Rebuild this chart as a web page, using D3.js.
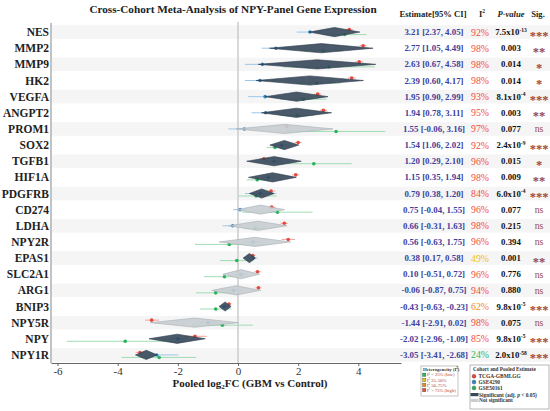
<!DOCTYPE html>
<html lang="en">
<head>
  <meta charset="utf-8">
  <title>NPY panel forest plot</title>
  <script src="https://cdn.jsdelivr.net/npm/d3@7"></script>
  <style>
    body { margin: 0; background: #fff; }
    text { font-family: "Liberation Serif", "DejaVu Serif", serif; }
  </style>
</head>
<body>
  <script>
    var genes = ["NES", "MMP2", "MMP9", "HK2", "VEGFA", "ANGPT2", "PROM1", "SOX2", "TGFB1", "HIF1A", "PDGFRB",
      "CD274", "LDHA", "NPY2R", "EPAS1", "SLC2A1", "ARG1", "BNIP3", "NPY5R", "NPY", "NPY1R"];

    // pooled estimate and 95% CI
    var pooledEst = [3.21, 2.77, 2.63, 2.39, 1.95, 1.94, 1.55, 1.54, 1.20, 1.15, 0.79, 0.75, 0.66, 0.56, 0.38, 0.10, -0.06, -0.43, -1.44, -2.02, -3.05];
    var pooledLo = [2.37, 1.05, 0.67, 0.60, 0.90, 0.78, -0.06, 1.06, 0.29, 0.35, 0.38, -0.04, -0.31, -0.63, 0.17, -0.51, -0.87, -0.63, -2.91, -2.96, -3.41];
    var pooledHi = [4.05, 4.49, 4.58, 4.17, 2.99, 3.11, 3.16, 2.02, 2.10, 1.94, 1.20, 1.55, 1.63, 1.75, 0.58, 0.72, 0.75, -0.23, 0.02, -1.09, -2.68];
    var i2 = [92, 98, 98, 98, 93, 95, 97, 92, 96, 98, 84, 96, 98, 96, 49, 96, 94, 62, 98, 85, 24];
    var pLabels = ["7.5x10^-13", "0.003", "0.014", "0.014", "8.1x10^-4", "0.003", "0.077", "2.4x10^-9", "0.015", "0.009", "6.0x10^-4",
      "0.077", "0.215", "0.394", "0.001", "0.776", "0.880", "9.8x10^-5", "0.075", "9.8x10^-5", "2.0x10^-58"];
    var sigLabels = ["***", "**", "*", "*", "***", "**", "ns", "***", "*", "**", "***",
      "ns", "ns", "ns", "**", "ns", "ns", "***", "ns", "***", "***"];

    // per-cohort estimates
    var tcgaEst = [3.70, 4.16, 4.03, 3.78, 2.65, 2.84, 1.62, 2.00, 0.86, 1.92, 1.10, 1.12, 1.54, 1.67, 0.49, 0.65, 0.68, -0.30, -2.87, -1.43, -3.26];
    var tcgaLo = [3.58, 4.04, 3.90, 3.66, 2.53, 2.72, 1.50, 1.88, 0.74, 1.80, 0.98, 1.00, 1.42, 1.45, 0.40, 0.55, 0.58, -0.38, -3.09, -1.80, -3.40];
    var tcgaHi = [3.82, 4.28, 4.16, 3.90, 2.77, 2.96, 1.74, 2.12, 0.98, 2.04, 1.22, 1.24, 1.66, 1.90, 0.58, 0.75, 0.78, -0.22, -2.62, -1.04, -3.12];
    var gse4290Est = [2.39, 1.26, 0.81, 0.73, 0.90, 0.92, 0.21, 1.45, 1.20, 1.00, 0.75, 0.07, -0.18, 0.50, 0.50, 0.10, -0.15, -0.45, -1.00, -2.00, -2.70];
    var gse4290Lo = [1.95, 0.79, 0.23, 0.23, 0.34, 0.45, -0.32, 1.20, 0.90, 0.75, 0.23, -0.16, -0.51, 0.20, 0.35, -0.10, -0.40, -0.60, -1.30, -2.30, -3.10];
    var gse4290Hi = [2.83, 1.73, 1.39, 1.23, 1.46, 1.39, 0.74, 1.70, 1.50, 1.25, 1.27, 0.30, 0.15, 0.80, 0.65, 0.30, 0.10, -0.30, -0.70, -1.70, -1.98];
    var gse50161Est = [3.55, 2.84, 3.03, 2.61, 2.17, 1.97, 3.26, 1.23, 2.52, 0.64, 0.60, 1.31, 0.57, -0.29, -0.04, -0.45, -0.74, -0.74, -0.52, -3.75, -2.62];
    var gse50161Lo = [2.83, 2.20, 1.50, 1.80, 1.40, 1.40, 1.60, 0.95, 1.26, 0.29, 0.00, 0.14, 0.20, -1.43, -0.60, -1.13, -1.39, -1.26, -1.53, -5.69, -3.87];
    var gse50161Hi = [4.27, 3.50, 4.55, 3.40, 2.95, 2.50, 4.90, 1.50, 3.78, 0.99, 1.28, 2.48, 0.90, 0.85, 0.52, 0.23, -0.09, -0.22, 0.49, -1.81, -1.39];

    var xTicks = [-6, -4, -2, 0, 2, 4];

    var cohorts = [
      { name: "TCGA-GBMLGG", color: "#e8473b", line: "#f4a49b", dy: -2.5, est: tcgaEst, lo: tcgaLo, hi: tcgaHi },
      { name: "GSE4290", color: "#2f86c8", line: "#9cc7e8", dy: 0, est: gse4290Est, lo: gse4290Lo, hi: gse4290Hi },
      { name: "GSE50161", color: "#27b35a", line: "#9fdcb3", dy: 2.5, est: gse50161Est, lo: gse50161Lo, hi: gse50161Hi }
    ];

    var w = 550, h = 411;
    var plotLeft = 51, plotRight = 401, plotTop = 24, plotBottom = 363;

    var x = d3.scaleLinear().domain([-6.217, 5.419]).range([plotLeft, plotRight]);
    var y = d3.scaleBand().domain(genes).range([plotTop, plotBottom]);

    function i2Color(v) {
      if (v < 25) return "#2eb85c";
      if (v < 50) return "#f0c20f";
      if (v < 75) return "#f28a1a";
      return "#f24d40";
    }

    var svg = d3.select("body").append("svg")
      .attr("width", w)
      .attr("height", h);

    // row stripes
    svg.selectAll(".stripe")
      .data(genes.filter(function (d, i) { return i % 2 === 0; }))
      .enter()
      .append("rect")
      .attr("x", plotLeft + 1)
      .attr("width", w - plotLeft)
      .attr("y", function (d) { return y(d) + y.bandwidth() / 2 - 6.8; })
      .attr("height", 13.6)
      .attr("fill", "#f5f5f5");

    // title + headers
    svg.append("text")
      .attr("x", 233).attr("y", 13)
      .attr("text-anchor", "middle")
      .attr("font-size", 11.2).attr("font-weight", "bold").attr("fill", "#222")
      .text("Cross-Cohort Meta-Analysis of NPY-Panel Gene Expression");

    var header = svg.append("g").attr("font-size", 8.6).attr("font-weight", "bold").attr("fill", "#222")
      .attr("text-anchor", "middle");
    header.append("text").attr("x", 433).attr("y", 16.5).text("Estimate[95% CI]");
    var hI2 = header.append("text").attr("x", 482).attr("y", 16.5).text("I");
    hI2.append("tspan").attr("font-size", 5.5).attr("dy", -3.5).text("2");
    header.append("text").attr("x", 511).attr("y", 16.5).attr("font-style", "italic").text("P-value");
    header.append("text").attr("x", 538).attr("y", 16.5).text("Sig.");

    // zero line
    svg.append("line")
      .attr("x1", x(0)).attr("x2", x(0))
      .attr("y1", plotTop - 2).attr("y2", plotBottom)
      .attr("stroke", "#cfcfcf").attr("stroke-width", 1.6);

    // left axis line
    svg.append("line")
      .attr("x1", plotLeft).attr("x2", plotLeft)
      .attr("y1", plotTop - 1).attr("y2", plotBottom)
      .attr("stroke", "#9a9a9a").attr("stroke-width", 1.2);

    // bottom axis
    var xAxis = svg.append("g")
      .attr("transform", "translate(0," + plotBottom + ")")
      .call(d3.axisBottom(x).tickValues(xTicks).tickSize(3).tickSizeOuter(0)
        .tickFormat(function (d) { return String(d); }));
    xAxis.select(".domain").attr("stroke", "#666").attr("stroke-width", 1.2);
    xAxis.selectAll(".tick line").attr("stroke", "#666");
    xAxis.selectAll(".tick text")
      .attr("font-family", "Liberation Serif, serif")
      .attr("font-size", 11).attr("fill", "#333").attr("dy", "0.5em");

    var xTitle = svg.append("text")
      .attr("x", 250).attr("y", 387)
      .attr("text-anchor", "middle")
      .attr("font-size", 11).attr("font-weight", "bold").attr("fill", "#222");
    xTitle.append("tspan").text("Pooled log");
    xTitle.append("tspan").attr("font-size", 7).attr("dy", 2).text("2");
    xTitle.append("tspan").attr("dy", -2).text("FC (GBM vs Control)");

    // gene labels
    svg.selectAll(".gene")
      .data(genes)
      .enter()
      .append("text")
      .attr("x", 49)
      .attr("y", function (d) { return y(d) + y.bandwidth() / 2; })
      .attr("dy", "0.35em")
      .attr("text-anchor", "end")
      .attr("font-size", 11.5).attr("font-weight", "bold").attr("fill", "#222")
      .text(function (d) { return d; });

    // cohort CIs and points
    cohorts.forEach(function (c) {
      var g = svg.append("g");
      g.selectAll("line")
        .data(genes)
        .enter()
        .append("line")
        .attr("x1", function (d, i) { return x(c.lo[i]); })
        .attr("x2", function (d, i) { return x(c.hi[i]); })
        .attr("y1", function (d) { return y(d) + y.bandwidth() / 2 + c.dy; })
        .attr("y2", function (d) { return y(d) + y.bandwidth() / 2 + c.dy; })
        .attr("stroke", c.line).attr("stroke-width", 1);
      g.selectAll("circle")
        .data(genes)
        .enter()
        .append("circle")
        .attr("cx", function (d, i) { return x(c.est[i]); })
        .attr("cy", function (d) { return y(d) + y.bandwidth() / 2 + c.dy; })
        .attr("r", 1.8)
        .attr("fill", c.color);
    });

    // pooled diamonds
    svg.selectAll(".diamond")
      .data(genes)
      .enter()
      .append("path")
      .attr("d", function (d, i) {
        var yc = y(d) + y.bandwidth() / 2;
        return "M" + x(pooledLo[i]) + "," + yc +
          "L" + x(pooledEst[i]) + "," + (yc - 4.6) +
          "L" + x(pooledHi[i]) + "," + yc +
          "L" + x(pooledEst[i]) + "," + (yc + 4.6) + "Z";
      })
      .attr("fill", function (d, i) { return sigLabels[i] === "ns" ? "#c8cdd2" : "#36485a"; })
      .attr("fill-opacity", 0.9)
      .attr("stroke", function (d, i) { return sigLabels[i] === "ns" ? "#a8afb5" : "#2c3b4a"; })
      .attr("stroke-width", 0.6);

    // table columns
    svg.selectAll(".est")
      .data(genes)
      .enter()
      .append("text")
      .attr("x", 434)
      .attr("y", function (d) { return y(d) + y.bandwidth() / 2; })
      .attr("dy", "0.35em")
      .attr("text-anchor", "middle")
      .attr("font-size", 8.9).attr("font-weight", "bold").attr("fill", "#3b419c")
      .text(function (d, i) {
        return pooledEst[i].toFixed(2) + " [" + pooledLo[i].toFixed(2) + ", " + pooledHi[i].toFixed(2) + "]";
      });

    svg.selectAll(".i2")
      .data(genes)
      .enter()
      .append("text")
      .attr("x", 480)
      .attr("y", function (d) { return y(d) + y.bandwidth() / 2; })
      .attr("dy", "0.35em")
      .attr("text-anchor", "middle")
      .attr("font-size", 9.8).attr("fill", function (d, i) { return i2Color(i2[i]); })
      .text(function (d, i) { return i2[i] + "%"; });

    svg.selectAll(".pval")
      .data(genes)
      .enter()
      .append("text")
      .attr("x", 511)
      .attr("y", function (d) { return y(d) + y.bandwidth() / 2; })
      .attr("dy", "0.35em")
      .attr("text-anchor", "middle")
      .attr("font-size", 8.8).attr("font-weight", "bold").attr("fill", "#111")
      .each(function (d, i) {
        var parts = pLabels[i].split("^");
        var t = d3.select(this);
        t.append("tspan").text(parts[0]);
        if (parts[1]) {
          t.append("tspan").attr("font-size", 5.5).attr("dy", -3.5).text(parts[1]);
        }
      });

    svg.selectAll(".sig")
      .data(genes)
      .enter()
      .append("text")
      .attr("x", 539)
      .attr("y", function (d) { return y(d) + y.bandwidth() / 2; })
      .attr("dy", function (d, i) { return sigLabels[i] === "ns" ? "0.35em" : "0.6em"; })
      .attr("text-anchor", "middle")
      .attr("font-size", function (d, i) { return sigLabels[i] === "ns" ? 9.8 : 12.5; })
      .attr("font-weight", function (d, i) { return sigLabels[i] === "ns" ? "normal" : "bold"; })
      .attr("fill", "#9a4848")
      .text(function (d, i) { return sigLabels[i]; });

    // heterogeneity legend
    var hetItems = [
      { label: "< 25% (low)", color: "#2eb85c" },
      { label: " 25\u201350%", color: "#f0c20f" },
      { label: " 50\u201375%", color: "#f28a1a" },
      { label: "> 75% (high)", color: "#f04a3c" }
    ];
    var leg1 = svg.append("g").attr("transform", "translate(421,366)");
    leg1.append("rect").attr("width", 37).attr("height", 30)
      .attr("fill", "#fff").attr("stroke", "#999").attr("stroke-width", 0.6);
    var l1t = leg1.append("text").attr("x", 2).attr("y", 4.8)
      .attr("font-size", 4.8).attr("font-weight", "bold").attr("fill", "#333").text("Heterogeneity (I");
    l1t.append("tspan").attr("font-size", 3).attr("dy", -1.5).text("2");
    l1t.append("tspan").attr("dy", 1.5).text(")");
    hetItems.forEach(function (d, i) {
      var yy = 8.8 + i * 5.1;
      leg1.append("rect").attr("x", 1.5).attr("y", yy - 1.7).attr("width", 3.4).attr("height", 3.4)
        .attr("fill", d.color).attr("stroke", "#333").attr("stroke-width", 0.3);
      var t = leg1.append("text").attr("x", 6).attr("y", yy + 1.6)
        .attr("font-size", 4.6).attr("fill", "#b03a2e").text("I");
      t.append("tspan").attr("font-size", 3).attr("dy", -1.4).text("2");
      t.append("tspan").attr("dy", 1.4).text(" " + d.label);
    });

    // cohort legend
    var leg2 = svg.append("g").attr("transform", "translate(470,365)");
    leg2.append("rect").attr("width", 79).attr("height", 44)
      .attr("fill", "#fff").attr("stroke", "#888").attr("stroke-width", 0.6);
    leg2.append("text").attr("x", 3).attr("y", 5.6)
      .attr("font-size", 5.2).attr("font-weight", "bold").attr("fill", "#333")
      .text("Cohort and Pooled Estimate");
    cohorts.forEach(function (c, i) {
      var yy = 11.3 + i * 5.8;
      leg2.append("circle").attr("cx", 4).attr("cy", yy).attr("r", 2)
        .attr("fill", c.color).attr("stroke", "#333").attr("stroke-width", 0.3);
      leg2.append("text").attr("x", 8.5).attr("y", yy + 2)
        .attr("font-size", 5.4).attr("font-weight", "bold").attr("fill", "#333").text(c.name);
    });
    var diaItems = [
      { label: "Significant (adj. ", italic: "p", tail: " < 0.05)", color: "#36485a" },
      { label: "Not significant", italic: "", tail: "", color: "#c8cdd2" }
    ];
    diaItems.forEach(function (d, i) {
      var yy = 29.6 + i * 5.8;
      leg2.append("rect").attr("x", 0.5).attr("y", yy - 1.6).attr("width", 8).attr("height", 3.2)
        .attr("fill", d.color);
      var t = leg2.append("text").attr("x", 9).attr("y", yy + 2)
        .attr("font-size", 5.4).attr("font-weight", "bold").attr("fill", "#333").text(d.label);
      if (d.italic) {
        t.append("tspan").attr("font-style", "italic").text(d.italic);
        t.append("tspan").text(d.tail);
      }
    });
  </script>
</body>
</html>
